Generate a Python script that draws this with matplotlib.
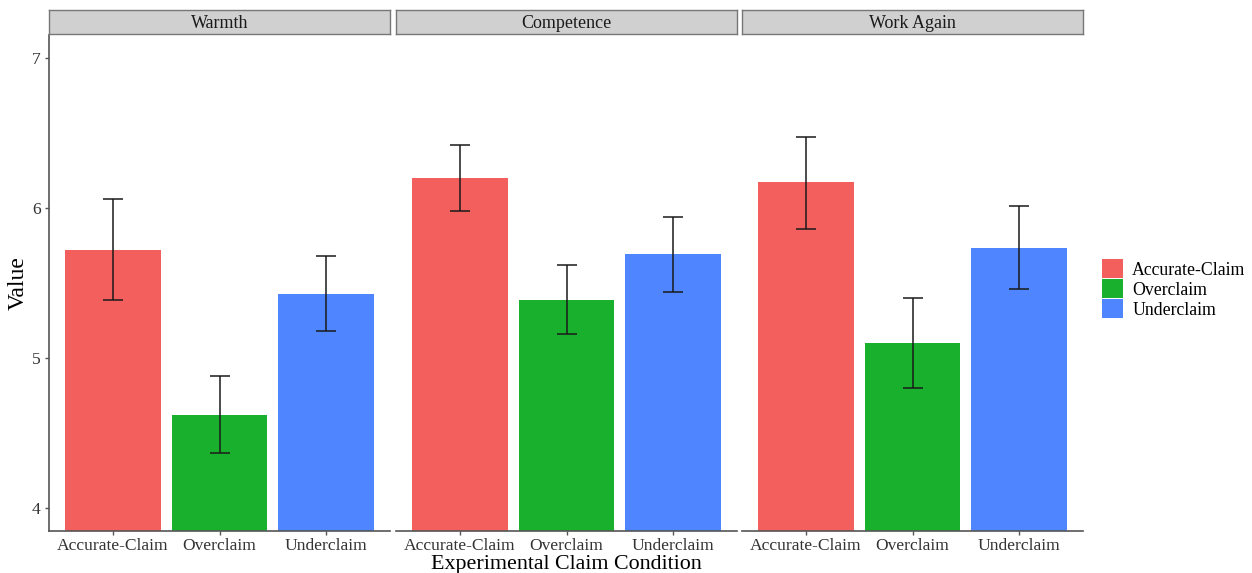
import matplotlib
matplotlib.use('Agg')
import matplotlib.pyplot as plt
import numpy as np
from matplotlib.patches import Patch

plt.rcParams['font.family'] = ['Liberation Serif', 'DejaVu Serif']

# Mean ratings and error-bar bounds per measure
measures = ['Warmth', 'Competence', 'Work Again']
conditions = ['Accurate-Claim', 'Overclaim', 'Underclaim']
means = {
    'Warmth':     [5.72, 4.62, 5.43],
    'Competence': [6.20, 5.39, 5.69],
    'Work Again': [6.17, 5.10, 5.73],
}
upper = {
    'Warmth':     [6.06, 4.88, 5.68],
    'Competence': [6.42, 5.62, 5.94],
    'Work Again': [6.47, 5.40, 6.01],
}
lower = {
    'Warmth':     [5.39, 4.37, 5.18],
    'Competence': [5.98, 5.16, 5.44],
    'Work Again': [5.86, 4.80, 5.46],
}
colors = ['#F25F5C', '#19B02E', '#4F86FF']

W, H = 1252, 573
fig = plt.figure(figsize=(W / 100, H / 100), dpi=100)

panel_left = [49, 396, 742]
panel_w = 341
plot_top, plot_bot = 35, 531
strip_top, strip_bot = 10, 34
axis_col = '#555555'

for i, m in enumerate(measures):
    x0 = panel_left[i] / W
    ax = fig.add_axes([x0, (H - plot_bot) / H, panel_w / W, (plot_bot - plot_top) / H])
    x = np.arange(1, 4)
    ax.bar(x, means[m], width=0.9, color=colors, bottom=0, zorder=1)
    yerr = [np.array(means[m]) - np.array(lower[m]), np.array(upper[m]) - np.array(means[m])]
    ax.errorbar(x, means[m], yerr=yerr, fmt='none', ecolor='#1a1a1a', elinewidth=1.1,
                capsize=7.5, capthick=1.1, zorder=2)
    ax.set_xlim(0.4, 3.6)
    ax.set_ylim(3.85, 7.15)
    ax.set_xticks(x)
    ax.set_xticklabels(conditions, fontsize=12.6, color='#333333')
    ax.set_yticks([4, 5, 6, 7])
    for s in ['top', 'right']:
        ax.spines[s].set_visible(False)
    ax.spines['bottom'].set_color(axis_col)
    ax.spines['bottom'].set_linewidth(1.2)
    ax.tick_params(axis='x', length=3, width=1, color=axis_col, pad=2)
    if i == 0:
        ax.spines['left'].set_color(axis_col)
        ax.spines['left'].set_linewidth(1.2)
        ax.tick_params(axis='y', length=3, width=1, color=axis_col, labelsize=12.6,
                       labelcolor='#333333', pad=3)
        ax.set_ylabel('Value', fontsize=17)
        ax.yaxis.set_label_coords(-20 / panel_w, 0.5)
    else:
        ax.spines['left'].set_visible(False)
        ax.tick_params(axis='y', left=False, labelleft=False)
    if i == 1:
        ax.set_xlabel('Experimental Claim Condition', fontsize=15.8, labelpad=1)

    # facet strip
    sax = fig.add_axes([x0, (H - strip_bot) / H, panel_w / W, (strip_bot - strip_top) / H])
    sax.set_facecolor('#D0D0D0')
    sax.set_xticks([])
    sax.set_yticks([])
    for s in sax.spines.values():
        s.set_color('#777777')
        s.set_linewidth(1.0)
    sax.text(0.5, 0.42, m, ha='center', va='center', fontsize=13, color='#1a1a1a',
             transform=sax.transAxes)

handles = [Patch(facecolor=c, edgecolor='none') for c in colors]
fig.legend(handles, conditions, loc='center left', bbox_to_anchor=(1086 / W, (H - 289) / H),
           frameon=False, fontsize=12.8, handlelength=1.2, handleheight=1.2,
           handletextpad=0.5, labelspacing=0.05)

fig.savefig('out.png', dpi=100)
